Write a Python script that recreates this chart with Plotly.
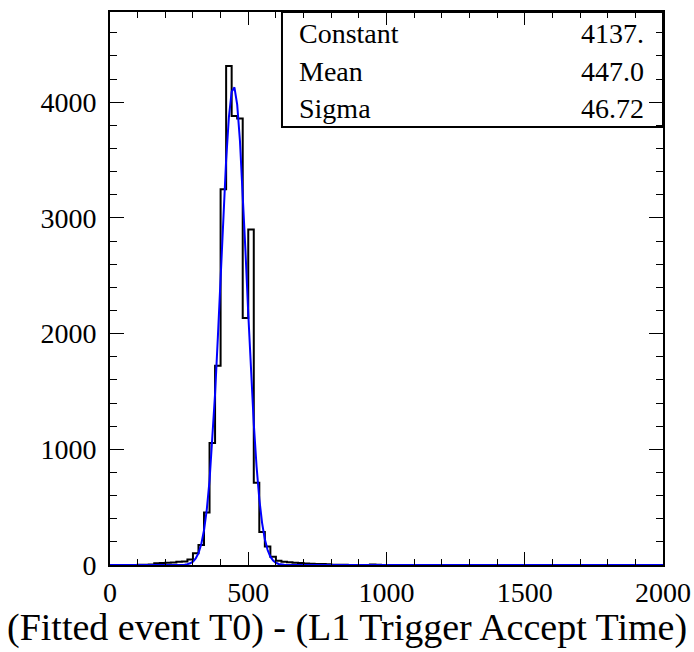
import numpy as np
import plotly.graph_objects as go

# ---- data ----
bin_width = 20
x_min, x_max = 0, 2000
counts = [
    0, 0, 0, 0, 0,            # 0-100
    2, 3, 5, 15, 18,          # 100-200
    20, 22, 28, 30, 48,       # 200-300
    101, 173, 453, 1054, 1723,  # 300-400
    3247, 4314, 3882, 3860, 2136,  # 400-500
    2900, 710, 285, 160, 72,  # 500-600
    37, 29, 23, 20, 17,       # 600-700
    14, 10, 9, 8, 6,          # 700-800
    3, 2, 2, 1, 1,            # 800-900
    1, 0, 4, 3, 0,            # 900-1000
] + [0] * 50                   # 1000-2000

fit_constant = 4137.0
fit_mean = 447.0
fit_sigma = 46.72

stat_labels = ["Constant", "Mean", "Sigma"]
stat_values = ["4137.", "447.0", "46.72"]

x_title = "(Fitted event T0) - (L1 Trigger Accept Time)"
x_tickvals = [0, 500, 1000, 1500, 2000]
y_tickvals = [0, 1000, 2000, 3000, 4000]
y_max = 4780

# ---- build ----
edges = np.arange(x_min, x_max + bin_width, bin_width)
hx = list(edges[:-1]) + [edges[-1]]
hy = list(counts) + [counts[-1]]

fx = np.arange(x_min, x_max + 1, 10)
fy = fit_constant * np.exp(-0.5 * ((fx - fit_mean) / fit_sigma) ** 2)

FONT = "Liberation Serif"

fig = go.Figure()
fig.add_trace(go.Scatter(x=hx, y=hy, mode="lines", line=dict(shape="hv", color="black", width=2),
                         showlegend=False, hoverinfo="skip"))
fig.add_trace(go.Scatter(x=fx, y=fy, mode="lines", line=dict(color="#0000ff", width=2),
                         showlegend=False, hoverinfo="skip"))

axis_common = dict(
    showgrid=False, zeroline=False, showline=True, linecolor="black", linewidth=2,
    mirror="allticks", ticks="inside", tickcolor="black", tickwidth=1,
    tickfont=dict(family=FONT, size=28, color="black"), automargin=False,
)

fig.update_xaxes(
    range=[x_min, x_max], tickvals=x_tickvals, ticklen=13,
    minor=dict(ticks="inside", ticklen=6, dtick=100, tickcolor="black", tickwidth=1),
    ticklabelstandoff=1,
    **axis_common,
)
fig.update_yaxes(
    range=[0, y_max], tickvals=y_tickvals, ticklen=14,
    minor=dict(ticks="inside", ticklen=7, dtick=200, tickcolor="black", tickwidth=1),
    ticklabelstandoff=6,
    **axis_common,
)

# x-axis title (centred on the page like the reference)
fig.add_annotation(xref="paper", yref="paper", x=0.4286, y=-0.1125, text=x_title, showarrow=False,
                   xanchor="center", yanchor="middle",
                   font=dict(family=FONT, size=38, color="black"))

# stats box
fig.add_shape(type="rect", xref="paper", yref="paper", x0=0.311, x1=1.0, y0=0.792, y1=1.0,
              line=dict(color="black", width=2), fillcolor="white", layer="below")
row_y = [0.962, 0.893, 0.825]
for lab, val, yy in zip(stat_labels, stat_values, row_y):
    fig.add_annotation(xref="paper", yref="paper", x=0.338, y=yy, text=lab, showarrow=False,
                       xanchor="left", yanchor="middle",
                       font=dict(family=FONT, size=28, color="black"))
    fig.add_annotation(xref="paper", yref="paper", x=0.970, y=yy, text=val, showarrow=False,
                       xanchor="right", yanchor="middle",
                       font=dict(family=FONT, size=28, color="black"))

fig.update_layout(
    width=694, height=652,
    margin=dict(l=110, r=31, t=12, b=87),
    paper_bgcolor="white", plot_bgcolor="white",
    showlegend=False,
)

fig.write_html("out.html")
